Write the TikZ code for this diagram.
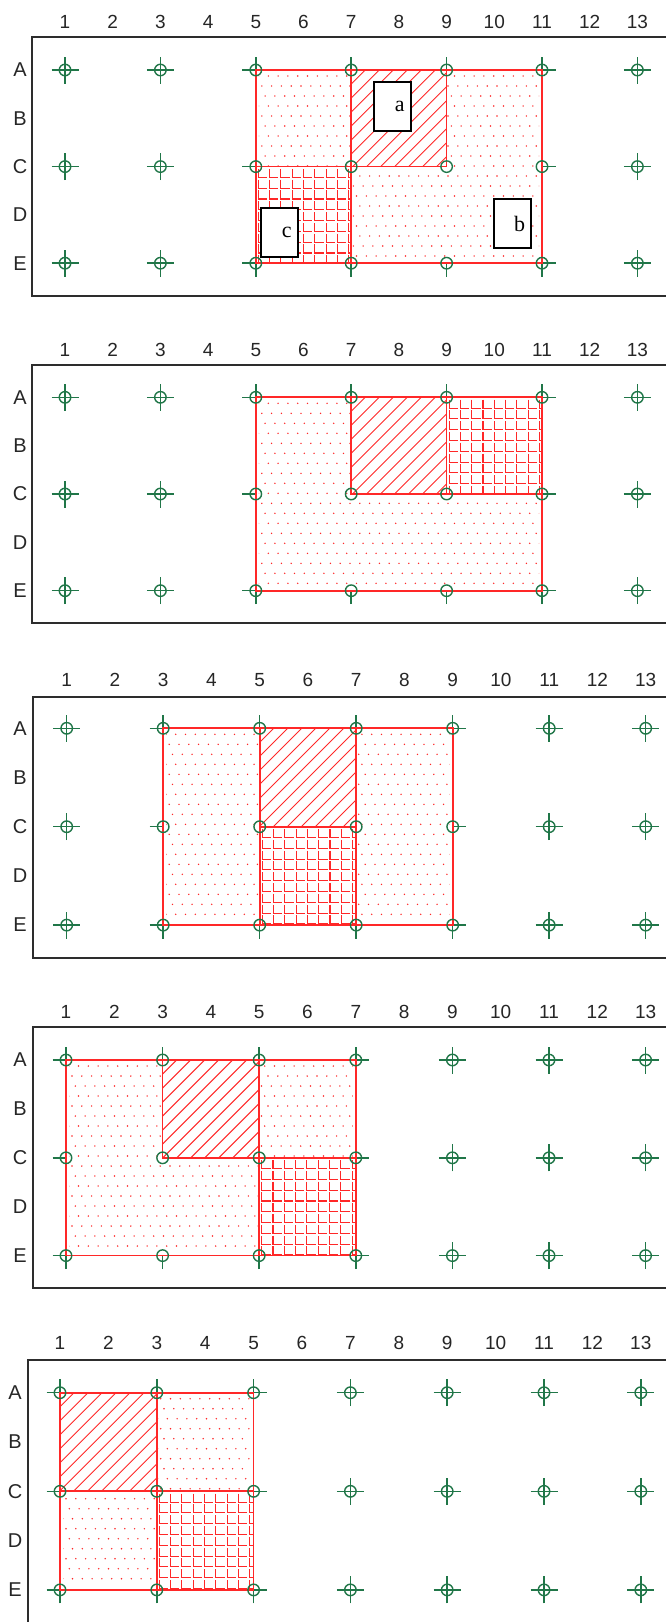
\documentclass[tikz,border=0pt]{standalone}
\usepackage{fontspec}
\setmainfont{Liberation Sans}
\newfontfamily\serifbox{Liberation Serif}
\definecolor{mkgreen}{RGB}{32,118,72}
\definecolor{hred}{RGB}{255,40,40}
\definecolor{framec}{RGB}{45,45,45}
\tikzset{
 panelframe/.style={draw=framec, line width=1.8pt},
 arm/.style={draw=mkgreen, line width=1.5pt},
 ring/.style={circle, draw=mkgreen, line width=1.4pt, minimum size=11.5pt, inner sep=0pt},
 redborder/.style={draw=hred, line width=1.7pt},
 hatchline/.style={draw=hred, line width=0.9pt},
 gridline/.style={draw=hred, line width=1.15pt},
 dotc/.style={fill=hred},
 numlabel/.style={font=\fontsize{19}{19}\selectfont, text=black!85, inner sep=0pt},
 letlabel/.style={font=\fontsize{20}{20}\selectfont, text=black!85, inner sep=0pt},
 tagbox/.style={draw=black, line width=1.8pt, fill=white, minimum height=49pt, text width=25pt, align=right, inner xsep=6pt, font=\serifbox\fontsize{22}{22}\selectfont}
}
\newcommand\setpanel[5]{\def\PP{#1}\def\PX{#2}\def\PDX{#3}\def\PY{#4}\def\PDY{#5}}
\newcommand\regcorners[4]{%
 \pgfmathsetmacro\xa{\PX+(#1-1)*\PDX}%
 \pgfmathsetmacro\ya{\PY+(#2-1)*\PDY}%
 \pgfmathsetmacro\xb{\PX+(#3-1)*\PDX}%
 \pgfmathsetmacro\yb{\PY+(#4-1)*\PDY}}
\newcommand\dotregion[4]{\regcorners{#1}{#2}{#3}{#4}%
 \fill[white] (\xa,\ya) rectangle (\xb,\yb);
 \begin{scope}
 \clip (\xa+3,\ya+3) rectangle (\xb-3,\yb-3);
 \pgfmathtruncatemacro\ny{(\yb-\ya)/10+1}
 \pgfmathtruncatemacro\nx{(\xb-\xa)/9.8+1}
 \foreach \jj in {0,...,\ny}{\foreach \ii in {0,...,\nx}{
   \fill[dotc] ({\xa+6+\ii*9.8+mod(\jj,3)*3.3-3.3},{\ya+6+\jj*10}) circle (0.8);}}
 \end{scope}}
\newcommand\hatchregion[4]{\regcorners{#1}{#2}{#3}{#4}%
 \fill[white] (\xa,\ya) rectangle (\xb,\yb);
 \begin{scope}
 \clip (\xa,\ya) rectangle (\xb,\yb);
 \pgfmathsetmacro\hh{\yb-\ya}
 \pgfmathtruncatemacro\nn{(\xb-\xa+\hh)/14+1}
 \foreach \ii in {0,...,\nn}{\draw[hatchline] ({\xa-\hh+\ii*14},\yb) -- ++(\hh,-\hh);}
 \end{scope}}
\newcommand\gridregion[4]{\regcorners{#1}{#2}{#3}{#4}%
 \fill[white] (\xa,\ya) rectangle (\xb,\yb);
 \begin{scope}
 \clip (\xa,\ya) rectangle (\xb,\yb);
 \pgfmathtruncatemacro\ny{(\yb-\ya)/10.8}
 \pgfmathtruncatemacro\nx{(\xb-\xa)/11.3}
 \foreach \jj in {0,...,\ny}{\foreach \ii in {0,...,\nx}{
   \draw[gridline] ({\xa+2.5+\ii*11.3},{\ya+\jj*10.8+2.2}) -- ({\xa+2.5+\ii*11.3},{\ya+(\jj+1)*10.8}) -- ({\xa+(\ii+1)*11.3},{\ya+(\jj+1)*10.8});}}
 \end{scope}}
\newcommand\redrect[4]{\regcorners{#1}{#2}{#3}{#4}\draw[redborder] (\xa,\ya) rectangle (\xb,\yb);}
\newcommand\panellabels[2]{%
 \foreach \ci in {1,...,13}{\node[numlabel] (n\PP-\ci) at ({\PX+(\ci-1)*\PDX},#1) {\ci};}
 \foreach \ri/\lt in {1/A,2/B,3/C,4/D,5/E}{\node[letlabel] (l\PP-\lt) at (#2,{\PY+(\ri-1)*\PDY}) {\lt};}}
\newcommand\placemarkers{%
 \foreach \ci in {1,3,...,13}{\foreach \ri in {1,3,5}{\coordinate (m\PP-\ci-\ri) at ({\PX+(\ci-1)*\PDX},{\PY+(\ri-1)*\PDY});}}
 \foreach \ci in {1,3,...,13}{\foreach \ri in {1,3,5}{\draw[arm] ([xshift=-13.5pt]m\PP-\ci-\ri) -- ([xshift=13.5pt]m\PP-\ci-\ri) ([yshift=-13.5pt]m\PP-\ci-\ri) -- ([yshift=13.5pt]m\PP-\ci-\ri);}}}
\newcommand\placerings{%
 \foreach \ci in {1,3,...,13}{\foreach \ri in {1,3,5}{\node[ring] (r\PP-\ci-\ri) at (m\PP-\ci-\ri) {};}}}
\begin{document}
\begin{tikzpicture}[x=1pt,y=-1pt]
\useasboundingbox (0,0) rectangle (665,1622);
\fill[white] (0,0) rectangle (665,1622);
% ---------------- panel 1
\setpanel{1}{65}{47.7}{70}{48.3}
\draw[panelframe] (666,36.7) -- (32.3,36.7) -- (32.3,296) -- (666,296);
\panellabels{21.7}{20}
\placemarkers
\dotregion{5}{1}{11}{5}
\hatchregion{7}{1}{9}{3}
\gridregion{5}{3}{7}{5}
\redrect{5}{1}{11}{5}\redrect{7}{1}{9}{3}\redrect{5}{3}{7}{5}
\placerings
\node[tagbox] (tag-a) at (392.2,106.3) {a};
\node[tagbox] (tag-b) at (512.5,223.5) {b};
\node[tagbox] (tag-c) at (279.2,232.2) {c};
% ---------------- panel 2
\setpanel{2}{65}{47.7}{397.3}{48.35}
\draw[panelframe] (666,365) -- (32.3,365) -- (32.3,623.3) -- (666,623.3);
\panellabels{350}{20}
\placemarkers
\dotregion{5}{1}{11}{5}
\hatchregion{7}{1}{9}{3}
\gridregion{9}{1}{11}{3}
\redrect{5}{1}{11}{5}\redrect{7}{1}{9}{3}\redrect{9}{1}{11}{3}
\placerings
% ---------------- panel 3
\setpanel{3}{66.7}{48.25}{728.3}{49.2}
\draw[panelframe] (666,696.7) -- (32.7,696.7) -- (32.7,958.3) -- (666,958.3);
\panellabels{680}{20}
\placemarkers
\dotregion{3}{1}{9}{5}
\hatchregion{5}{1}{7}{3}
\gridregion{5}{3}{7}{5}
\redrect{3}{1}{9}{5}\redrect{5}{1}{7}{3}\redrect{5}{3}{7}{5}
\placerings
% ---------------- panel 4
\setpanel{4}{66}{48.3}{1060}{48.9}
\draw[panelframe] (666,1027.3) -- (32.7,1027.3) -- (32.7,1287.7) -- (666,1287.7);
\panellabels{1011.7}{20}
\placemarkers
\dotregion{1}{1}{7}{5}
\hatchregion{3}{1}{5}{3}
\gridregion{5}{3}{7}{5}
\redrect{1}{1}{7}{5}\redrect{3}{1}{5}{3}\redrect{5}{3}{7}{5}
\placerings
% ---------------- panel 5
\setpanel{5}{60}{48.4}{1392.7}{49.3}
\draw[panelframe] (666,1360) -- (28.3,1360) -- (28.3,1623);
\panellabels{1343.3}{15}
\placemarkers
\dotregion{1}{1}{5}{5}
\hatchregion{1}{1}{3}{3}
\gridregion{3}{3}{5}{5}
\redrect{1}{1}{5}{5}\redrect{1}{1}{3}{3}\redrect{3}{3}{5}{5}
\placerings
\end{tikzpicture}
\end{document}
